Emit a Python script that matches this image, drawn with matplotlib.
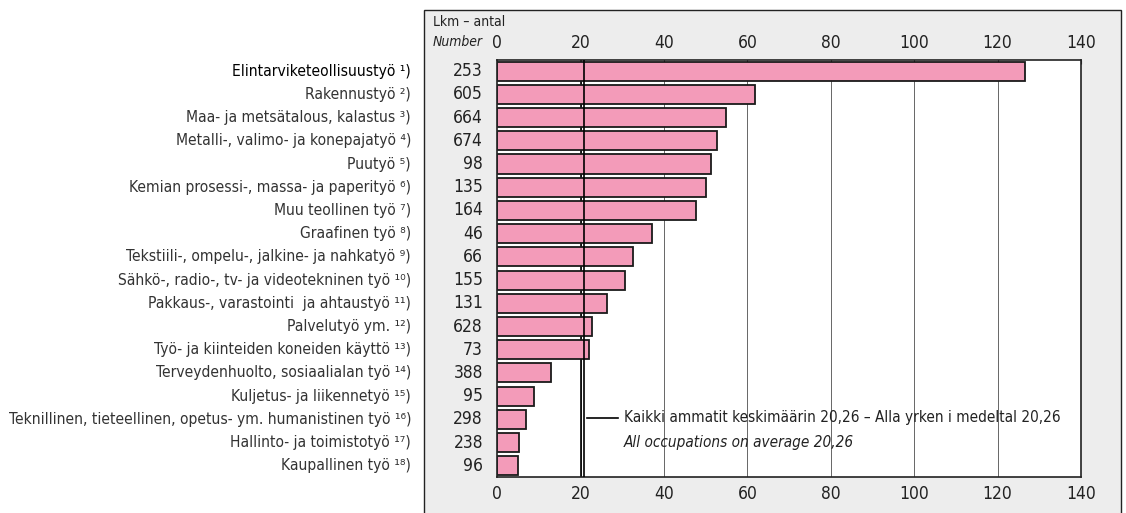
import numpy as np
import matplotlib
matplotlib.use("Agg")
import matplotlib.pyplot as plt
import matplotlib.transforms as mtransforms
from matplotlib.patches import Rectangle

plt.rcParams['font.family'] = ['DejaVu Sans']
plt.rcParams['font.stretch'] = 'condensed'

occupations = [
    "Elintarviketeollisuustyö", "Rakennustyö", "Maa- ja metsätalous, kalastus",
    "Metalli-, valimo- ja konepajatyö", "Puutyö", "Kemian prosessi-, massa- ja paperityö",
    "Muu teollinen työ", "Graafinen työ", "Tekstiili-, ompelu-, jalkine- ja nahkatyö",
    "Sähkö-, radio-, tv- ja videotekninen työ", "Pakkaus-, varastointi  ja ahtaustyö",
    "Palvelutyö ym.", "Työ- ja kiinteiden koneiden käyttö", "Terveydenhuolto, sosiaalialan työ",
    "Kuljetus- ja liikennetyö", "Teknillinen, tieteellinen, opetus- ym. humanistinen työ",
    "Hallinto- ja toimistotyö", "Kaupallinen työ",
]
footnotes = ["¹", "²", "³", "⁴", "⁵", "⁶", "⁷", "⁸", "⁹", "¹⁰", "¹¹", "¹²", "¹³", "¹⁴",
             "¹⁵", "¹⁶", "¹⁷", "¹⁸"]
counts = [253, 605, 664, 674, 98, 135, 164, 46, 66, 155, 131, 628, 73, 388, 95, 298, 238, 96]
rates = [126.6, 61.7, 54.8, 52.6, 51.3, 50.1, 47.6, 37.1, 32.5, 30.7, 26.2, 22.8, 22.1,
         12.8, 8.8, 6.9, 5.2, 5.0]
average = 20.26
xticks = [0, 20, 40, 60, 80, 100, 120, 140]

W, H = 1126, 513
fig = plt.figure(figsize=(W / 100, H / 100), dpi=100)

# grey panel behind the chart
panel = Rectangle((424 / W, -0.02), (1121 - 424) / W, (513 - 9.5) / H + 0.02,
                  transform=fig.transFigure, facecolor='#EDEDED',
                  edgecolor='#222222', linewidth=1.0, zorder=-1)
fig.patches.append(panel)

left, right = 497.3 / W, 1081 / W
top, bottom = 1 - 60 / H, 1 - 476.7 / H
ax = fig.add_axes([left, bottom, right - left, top - bottom])
ax.set_zorder(2)
ax.set_facecolor('white')

y = np.arange(len(rates))
ax.barh(y, rates, height=0.82, color='#F39BB9', edgecolor='#1a1a1a', linewidth=1.3, zorder=2)

for g in xticks[1:-1]:
    ax.axvline(g, color='#666666', linewidth=0.7, zorder=1)
ax.axvline(average - 0.26, color='black', linewidth=1.2, zorder=1.5)
ax.axvline(average + 0.45, color='black', linewidth=1.2, zorder=3)

ax.set_xlim(0, 140)
ax.set_ylim(len(rates) - 0.53, -0.48)
ax.set_yticks([])
ax.set_xticks(xticks)
ax.tick_params(axis='x', labeltop=True, labelbottom=True, top=True, bottom=False,
               direction='in', length=3, labelsize=12.5, pad=6, colors='#222222')
for s in ax.spines.values():
    s.set_color('#222222')
    s.set_linewidth(1.2)

trans = mtransforms.blended_transform_factory(ax.transAxes, ax.transData)
for i, (name, fn, n) in enumerate(zip(occupations, footnotes, counts)):
    col = 'black' if i == 0 else '#333333'
    ax.text(-0.1478, i, f"{name} {fn})", transform=trans, ha='right', va='center',
            fontsize=11.2, color=col)
    ax.text(-0.0245, i, str(n), transform=trans, ha='right', va='center',
            fontsize=12.5, color='#222222')

# average legend
ax.plot([21.4, 29.0], [14.94, 14.94], color='black', linewidth=1.2, zorder=3)
ax.text(30.3, 14.94, "Kaikki ammatit keskimäärin 20,26 – Alla yrken i medeltal 20,26",
        ha='left', va='center', fontsize=11, color='#222222', zorder=4)
ax.text(30.3, 15.98, "All occupations on average 20,26", ha='left', va='center',
        fontsize=11, style='italic', color='#222222', zorder=4)

fig.text(433 / W, 1 - 22 / H, "Lkm – antal", ha='left', va='center', fontsize=10,
         color='#222222')
fig.text(433 / W, 1 - 42 / H, "Number", ha='left', va='center', fontsize=10,
         style='italic', color='#222222')

fig.savefig('out.png', dpi=100)
